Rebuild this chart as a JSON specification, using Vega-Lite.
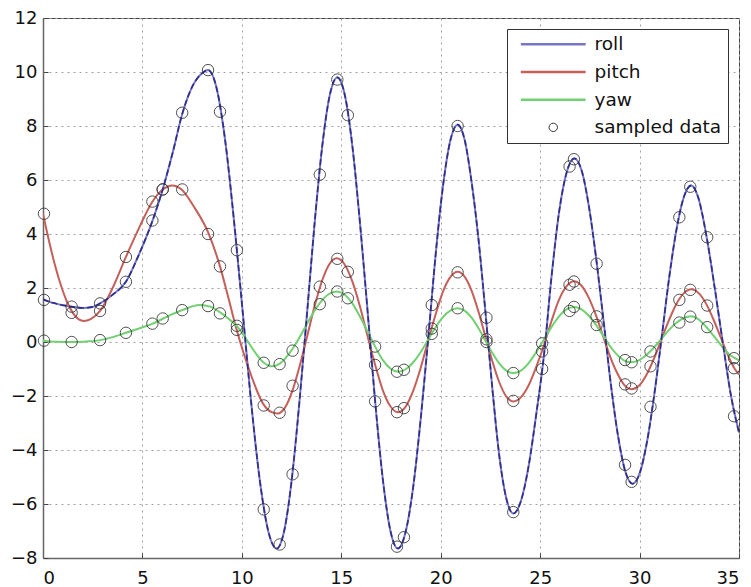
{
"$schema": "https://vega.github.io/schema/vega-lite/v6.json",
"width": 696, "height": 540,
"autosize": {"type": "none"},
"padding": {"left": 43, "top": 18, "right": 12, "bottom": 29},
"background": "white",
"config": {
 "view": {"stroke": "#444", "strokeWidth": 1},
 "axis": {"grid": true, "gridColor": "#a0a0a0", "gridDash": [2, 4], "gridWidth": 1, "domainColor": "#666", "domainWidth": 1.5, "tickColor": "#444", "tickSize": -5, "labelFont": "DejaVu Sans", "labelFontSize": 18, "labelColor": "#111", "title": null}
},
"datasets": {
 "curves": [
  {"t":0,"s":"roll","v":1.58},{"t":0.5,"s":"roll","v":1.45},{"t":1,"s":"roll","v":1.36},{"t":1.44,"s":"roll","v":1.31},{"t":2,"s":"roll","v":1.26},{"t":2.5,"s":"roll","v":1.3},{"t":2.87,"s":"roll","v":1.43},{"t":3.5,"s":"roll","v":1.75},{"t":4.17,"s":"roll","v":2.23},{"t":4.8,"s":"roll","v":3.2},{"t":5.55,"s":"roll","v":4.58},{"t":6.02,"s":"roll","v":5.65},{"t":6.5,"s":"roll","v":6.95},{"t":7.02,"s":"roll","v":8.49},{"t":7.5,"s":"roll","v":9.45},{"t":8,"s":"roll","v":9.95},{"t":8.3,"s":"roll","v":10.07},{"t":8.73,"s":"roll","v":9.4},{"t":9.16,"s":"roll","v":7.47},{"t":9.59,"s":"roll","v":4.6},{"t":10.03,"s":"roll","v":1.21},{"t":10.46,"s":"roll","v":-2.18},{"t":10.89,"s":"roll","v":-5.05},{"t":11.32,"s":"roll","v":-6.98},{"t":11.75,"s":"roll","v":-7.65},{"t":12.13,"s":"roll","v":-6.99},{"t":12.51,"s":"roll","v":-5.09},{"t":12.89,"s":"roll","v":-2.26},{"t":13.28,"s":"roll","v":1.08},{"t":13.66,"s":"roll","v":4.41},{"t":14.04,"s":"roll","v":7.24},{"t":14.42,"s":"roll","v":9.14},{"t":14.8,"s":"roll","v":9.8},{"t":15.18,"s":"roll","v":9.14},{"t":15.56,"s":"roll","v":7.24},{"t":15.94,"s":"roll","v":4.41},{"t":16.33,"s":"roll","v":1.08},{"t":16.71,"s":"roll","v":-2.26},{"t":17.09,"s":"roll","v":-5.09},{"t":17.47,"s":"roll","v":-6.99},{"t":17.85,"s":"roll","v":-7.65},{"t":18.23,"s":"roll","v":-7.05},{"t":18.62,"s":"roll","v":-5.35},{"t":19.0,"s":"roll","v":-2.8},{"t":19.38,"s":"roll","v":0.2},{"t":19.74,"s":"roll","v":3.2},{"t":20.11,"s":"roll","v":5.75},{"t":20.48,"s":"roll","v":7.45},{"t":20.85,"s":"roll","v":8.05},{"t":21.2,"s":"roll","v":7.5},{"t":21.55,"s":"roll","v":5.94},{"t":21.9,"s":"roll","v":3.8},{"t":22.25,"s":"roll","v":1.1},{"t":22.6,"s":"roll","v":-1.75},{"t":22.95,"s":"roll","v":-4.24},{"t":23.3,"s":"roll","v":-5.8},{"t":23.65,"s":"roll","v":-6.35},{"t":24.03,"s":"roll","v":-5.9},{"t":24.42,"s":"roll","v":-4.6},{"t":24.8,"s":"roll","v":-2.7},{"t":25.19,"s":"roll","v":-0.5},{"t":25.57,"s":"roll","v":2.4},{"t":25.95,"s":"roll","v":4.8},{"t":26.34,"s":"roll","v":6.3},{"t":26.72,"s":"roll","v":6.8},{"t":27.09,"s":"roll","v":6.34},{"t":27.45,"s":"roll","v":5.03},{"t":27.82,"s":"roll","v":3.08},{"t":28.19,"s":"roll","v":0.78},{"t":28.55,"s":"roll","v":-1.53},{"t":28.92,"s":"roll","v":-3.49},{"t":29.28,"s":"roll","v":-4.79},{"t":29.65,"s":"roll","v":-5.25},{"t":30.02,"s":"roll","v":-4.83},{"t":30.39,"s":"roll","v":-3.63},{"t":30.76,"s":"roll","v":-1.84},{"t":31.13,"s":"roll","v":0.28},{"t":31.49,"s":"roll","v":2.39},{"t":31.86,"s":"roll","v":4.18},{"t":32.23,"s":"roll","v":5.38},{"t":32.6,"s":"roll","v":5.8},{"t":32.95,"s":"roll","v":5.35},{"t":33.37,"s":"roll","v":3.9},{"t":33.8,"s":"roll","v":1.9},{"t":34.2,"s":"roll","v":-0.1},{"t":34.6,"s":"roll","v":-2.0},{"t":35,"s":"roll","v":-3.35},
  {"t":0,"s":"pitch","v":4.75},{"t":0.3,"s":"pitch","v":3.75},{"t":0.6,"s":"pitch","v":2.85},{"t":0.9,"s":"pitch","v":2.1},{"t":1.2,"s":"pitch","v":1.5},{"t":1.5,"s":"pitch","v":1.08},{"t":1.8,"s":"pitch","v":0.84},{"t":2.05,"s":"pitch","v":0.78},{"t":2.4,"s":"pitch","v":0.85},{"t":2.87,"s":"pitch","v":1.15},{"t":3.5,"s":"pitch","v":2.0},{"t":4.17,"s":"pitch","v":3.15},{"t":4.88,"s":"pitch","v":4.3},{"t":5.46,"s":"pitch","v":5.15},{"t":6.02,"s":"pitch","v":5.65},{"t":6.5,"s":"pitch","v":5.8},{"t":6.97,"s":"pitch","v":5.65},{"t":7.6,"s":"pitch","v":5.0},{"t":8.31,"s":"pitch","v":4.05},{"t":8.9,"s":"pitch","v":2.8},{"t":9.3,"s":"pitch","v":1.7},{"t":9.74,"s":"pitch","v":0.45},{"t":10.4,"s":"pitch","v":-1.1},{"t":11.08,"s":"pitch","v":-2.3},{"t":11.5,"s":"pitch","v":-2.6},{"t":11.8,"s":"pitch","v":-2.65},{"t":12.17,"s":"pitch","v":-2.43},{"t":12.54,"s":"pitch","v":-1.81},{"t":12.91,"s":"pitch","v":-0.88},{"t":13.29,"s":"pitch","v":0.23},{"t":13.66,"s":"pitch","v":1.33},{"t":14.03,"s":"pitch","v":2.26},{"t":14.4,"s":"pitch","v":2.88},{"t":14.77,"s":"pitch","v":3.1},{"t":15.16,"s":"pitch","v":2.88},{"t":15.54,"s":"pitch","v":2.27},{"t":15.93,"s":"pitch","v":1.34},{"t":16.31,"s":"pitch","v":0.25},{"t":16.7,"s":"pitch","v":-0.84},{"t":17.08,"s":"pitch","v":-1.77},{"t":17.47,"s":"pitch","v":-2.38},{"t":17.85,"s":"pitch","v":-2.6},{"t":18.23,"s":"pitch","v":-2.4},{"t":18.6,"s":"pitch","v":-1.84},{"t":18.98,"s":"pitch","v":-0.99},{"t":19.35,"s":"pitch","v":0},{"t":19.73,"s":"pitch","v":0.99},{"t":20.1,"s":"pitch","v":1.84},{"t":20.48,"s":"pitch","v":2.4},{"t":20.85,"s":"pitch","v":2.6},{"t":21.2,"s":"pitch","v":2.42},{"t":21.55,"s":"pitch","v":1.9},{"t":21.9,"s":"pitch","v":1.12},{"t":22.25,"s":"pitch","v":0.2},{"t":22.6,"s":"pitch","v":-0.72},{"t":22.95,"s":"pitch","v":-1.5},{"t":23.3,"s":"pitch","v":-2.02},{"t":23.65,"s":"pitch","v":-2.2},{"t":24.03,"s":"pitch","v":-2.05},{"t":24.41,"s":"pitch","v":-1.62},{"t":24.79,"s":"pitch","v":-0.95},{"t":25.18,"s":"pitch","v":-0.15},{"t":25.56,"s":"pitch","v":0.75},{"t":25.94,"s":"pitch","v":1.55},{"t":26.32,"s":"pitch","v":2.06},{"t":26.7,"s":"pitch","v":2.25},{"t":27.06,"s":"pitch","v":2.1},{"t":27.43,"s":"pitch","v":1.66},{"t":27.79,"s":"pitch","v":1.02},{"t":28.15,"s":"pitch","v":0.25},{"t":28.51,"s":"pitch","v":-0.52},{"t":28.88,"s":"pitch","v":-1.16},{"t":29.24,"s":"pitch","v":-1.6},{"t":29.6,"s":"pitch","v":-1.75},{"t":29.98,"s":"pitch","v":-1.61},{"t":30.35,"s":"pitch","v":-1.21},{"t":30.73,"s":"pitch","v":-0.61},{"t":31.1,"s":"pitch","v":0.1},{"t":31.48,"s":"pitch","v":0.81},{"t":31.85,"s":"pitch","v":1.41},{"t":32.23,"s":"pitch","v":1.81},{"t":32.6,"s":"pitch","v":1.95},{"t":32.96,"s":"pitch","v":1.82},{"t":33.33,"s":"pitch","v":1.44},{"t":33.69,"s":"pitch","v":0.88},{"t":34.05,"s":"pitch","v":0.23},{"t":34.41,"s":"pitch","v":-0.43},{"t":34.78,"s":"pitch","v":-0.99},{"t":35,"s":"pitch","v":-1.2},
  {"t":0,"s":"yaw","v":0.05},{"t":0.7,"s":"yaw","v":0.01},{"t":1.44,"s":"yaw","v":0},{"t":2.2,"s":"yaw","v":0.02},{"t":2.9,"s":"yaw","v":0.07},{"t":3.5,"s":"yaw","v":0.18},{"t":4.17,"s":"yaw","v":0.34},{"t":4.9,"s":"yaw","v":0.52},{"t":5.55,"s":"yaw","v":0.69},{"t":6.05,"s":"yaw","v":0.87},{"t":6.5,"s":"yaw","v":1.03},{"t":7.0,"s":"yaw","v":1.18},{"t":7.5,"s":"yaw","v":1.32},{"t":7.9,"s":"yaw","v":1.37},{"t":8.4,"s":"yaw","v":1.31},{"t":8.98,"s":"yaw","v":1.06},{"t":9.35,"s":"yaw","v":0.85},{"t":9.74,"s":"yaw","v":0.6},{"t":10.0,"s":"yaw","v":0.35},{"t":10.3,"s":"yaw","v":0.02},{"t":10.7,"s":"yaw","v":-0.42},{"t":11.08,"s":"yaw","v":-0.75},{"t":11.5,"s":"yaw","v":-0.9},{"t":11.91,"s":"yaw","v":-0.8},{"t":12.32,"s":"yaw","v":-0.49},{"t":12.73,"s":"yaw","v":-0.05},{"t":13.14,"s":"yaw","v":0.49},{"t":13.54,"s":"yaw","v":1.02},{"t":13.95,"s":"yaw","v":1.47},{"t":14.36,"s":"yaw","v":1.77},{"t":14.77,"s":"yaw","v":1.87},{"t":15.16,"s":"yaw","v":1.76},{"t":15.55,"s":"yaw","v":1.44},{"t":15.93,"s":"yaw","v":0.95},{"t":16.32,"s":"yaw","v":0.39},{"t":16.71,"s":"yaw","v":-0.18},{"t":17.09,"s":"yaw","v":-0.67},{"t":17.48,"s":"yaw","v":-0.99},{"t":17.87,"s":"yaw","v":-1.1},{"t":18.24,"s":"yaw","v":-1.01},{"t":18.61,"s":"yaw","v":-0.76},{"t":18.99,"s":"yaw","v":-0.38},{"t":19.36,"s":"yaw","v":0.08},{"t":19.73,"s":"yaw","v":0.53},{"t":20.1,"s":"yaw","v":0.91},{"t":20.48,"s":"yaw","v":1.16},{"t":20.85,"s":"yaw","v":1.25},{"t":21.2,"s":"yaw","v":1.16},{"t":21.55,"s":"yaw","v":0.9},{"t":21.9,"s":"yaw","v":0.51},{"t":22.25,"s":"yaw","v":0.05},{"t":22.6,"s":"yaw","v":-0.41},{"t":22.95,"s":"yaw","v":-0.8},{"t":23.3,"s":"yaw","v":-1.06},{"t":23.65,"s":"yaw","v":-1.15},{"t":24.03,"s":"yaw","v":-1.06},{"t":24.41,"s":"yaw","v":-0.79},{"t":24.79,"s":"yaw","v":-0.39},{"t":25.18,"s":"yaw","v":0.08},{"t":25.56,"s":"yaw","v":0.54},{"t":25.94,"s":"yaw","v":0.94},{"t":26.32,"s":"yaw","v":1.21},{"t":26.7,"s":"yaw","v":1.3},{"t":27.06,"s":"yaw","v":1.22},{"t":27.41,"s":"yaw","v":1.0},{"t":27.77,"s":"yaw","v":0.67},{"t":28.13,"s":"yaw","v":0.28},{"t":28.48,"s":"yaw","v":-0.12},{"t":28.84,"s":"yaw","v":-0.45},{"t":29.19,"s":"yaw","v":-0.67},{"t":29.55,"s":"yaw","v":-0.75},{"t":29.93,"s":"yaw","v":-0.69},{"t":30.31,"s":"yaw","v":-0.5},{"t":30.69,"s":"yaw","v":-0.23},{"t":31.08,"s":"yaw","v":0.1},{"t":31.46,"s":"yaw","v":0.43},{"t":31.84,"s":"yaw","v":0.7},{"t":32.22,"s":"yaw","v":0.89},{"t":32.6,"s":"yaw","v":0.95},{"t":32.95,"s":"yaw","v":0.85},{"t":33.3,"s":"yaw","v":0.6},{"t":33.7,"s":"yaw","v":0.25},{"t":34.1,"s":"yaw","v":-0.12},{"t":34.5,"s":"yaw","v":-0.45},{"t":34.8,"s":"yaw","v":-0.6},{"t":35,"s":"yaw","v":-0.68}
 ],
 "samples": [
  {"t":0.05,"v":1.56},{"t":0.05,"v":4.75},{"t":0.05,"v":0.05},
  {"t":1.44,"v":1.31},{"t":1.44,"v":1.08},{"t":1.44,"v":0.0},
  {"t":2.87,"v":1.43},{"t":2.87,"v":1.15},{"t":2.87,"v":0.07},
  {"t":4.17,"v":2.23},{"t":4.17,"v":3.15},{"t":4.17,"v":0.34},
  {"t":5.5,"v":4.5},{"t":5.5,"v":5.2},{"t":5.5,"v":0.68},
  {"t":6.02,"v":5.65},{"t":6.02,"v":5.65},{"t":6.02,"v":0.87},
  {"t":7.0,"v":8.49},{"t":7.0,"v":5.65},{"t":7.0,"v":1.18},
  {"t":8.3,"v":10.07},{"t":8.3,"v":4.0},{"t":8.3,"v":1.33},
  {"t":8.9,"v":8.53},{"t":8.9,"v":2.8},{"t":8.9,"v":1.06},
  {"t":9.75,"v":3.4},{"t":9.75,"v":0.45},{"t":9.75,"v":0.6},
  {"t":11.1,"v":-6.2},{"t":11.1,"v":-2.35},{"t":11.1,"v":-0.77},
  {"t":11.9,"v":-7.5},{"t":11.9,"v":-2.62},{"t":11.9,"v":-0.82},
  {"t":12.55,"v":-4.9},{"t":12.55,"v":-1.62},{"t":12.55,"v":-0.32},
  {"t":13.92,"v":6.2},{"t":13.92,"v":2.05},{"t":13.92,"v":1.4},
  {"t":14.8,"v":9.72},{"t":14.8,"v":3.08},{"t":14.8,"v":1.87},
  {"t":15.33,"v":8.4},{"t":15.33,"v":2.6},{"t":15.33,"v":1.62},
  {"t":16.7,"v":-2.2},{"t":16.7,"v":-0.85},{"t":16.7,"v":-0.17},
  {"t":17.8,"v":-7.58},{"t":17.8,"v":-2.6},{"t":17.8,"v":-1.1},
  {"t":18.15,"v":-7.23},{"t":18.15,"v":-2.45},{"t":18.15,"v":-1.03},
  {"t":19.55,"v":1.37},{"t":19.55,"v":0.5},{"t":19.55,"v":0.3},
  {"t":20.85,"v":8.0},{"t":20.85,"v":2.58},{"t":20.85,"v":1.25},
  {"t":22.3,"v":0.9},{"t":22.3,"v":0.1},{"t":22.3,"v":0.0},
  {"t":23.65,"v":-6.3},{"t":23.65,"v":-2.18},{"t":23.65,"v":-1.15},
  {"t":25.1,"v":-1.0},{"t":25.1,"v":-0.35},{"t":25.1,"v":-0.05},
  {"t":26.48,"v":6.5},{"t":26.48,"v":2.12},{"t":26.48,"v":1.15},
  {"t":26.7,"v":6.77},{"t":26.7,"v":2.24},{"t":26.7,"v":1.3},
  {"t":27.84,"v":2.9},{"t":27.84,"v":0.95},{"t":27.84,"v":0.63},
  {"t":29.27,"v":-4.55},{"t":29.27,"v":-1.57},{"t":29.27,"v":-0.67},
  {"t":29.6,"v":-5.18},{"t":29.6,"v":-1.72},{"t":29.6,"v":-0.75},
  {"t":30.55,"v":-2.4},{"t":30.55,"v":-0.9},{"t":30.55,"v":-0.35},
  {"t":32.0,"v":4.62},{"t":32.0,"v":1.56},{"t":32.0,"v":0.72},
  {"t":32.55,"v":5.75},{"t":32.55,"v":1.93},{"t":32.55,"v":0.94},
  {"t":33.4,"v":3.88},{"t":33.4,"v":1.35},{"t":33.4,"v":0.55},
  {"t":34.75,"v":-2.75},{"t":34.75,"v":-0.97},{"t":34.75,"v":-0.6}
 ]
},
"layer": [
 {
  "data": {"name": "curves"},
  "mark": {"type": "line", "strokeWidth": 2, "interpolate": "monotone", "clip": true},
  "encoding": {
   "x": {"field": "t", "type": "quantitative", "scale": {"domain": [0, 35], "nice": false, "zero": false}, "axis": {"values": [0, 5, 10, 15, 20, 25, 30, 35], "labelPadding": 16}},
   "y": {"field": "v", "type": "quantitative", "scale": {"domain": [-8, 12], "nice": false, "zero": false}, "axis": {"values": [-8, -6, -4, -2, 0, 2, 4, 6, 8, 10, 12], "labelPadding": 11}},
   "color": {"field": "s", "type": "nominal", "scale": {"domain": ["roll", "pitch", "yaw", "sampled data"], "range": ["#7676c6", "#c55f5a", "#72d072", "#333333"]},
    "legend": {"title": null, "orient": "top-right", "offset": 11, "padding": 6, "rowPadding": 8.7, "fillColor": "white", "strokeColor": "#333", "labelFont": "DejaVu Sans", "labelFontSize": 18.5, "labelColor": "#111", "labelLimit": 300, "symbolSize": 144, "symbolOffset": 31, "labelOffset": 32,
     "encode": {"symbols": {"update": {
      "shape": {"signal": "datum.value === 'sampled data' ? 'circle' : 'M-5.4,0H5.4'"},
      "size": {"signal": "datum.value === 'sampled data' ? 70 : 144"},
      "strokeWidth": {"signal": "datum.value === 'sampled data' ? 1 : 2.5"},
      "fill": {"value": "transparent"},
      "stroke": {"signal": "datum.value === 'roll' ? '#8585cc' : datum.value === 'pitch' ? '#bb5a55' : datum.value === 'yaw' ? '#86d486' : '#444444'"},
      "opacity": {"value": 1}
     }}}}
   }
  }
 },
 {
  "data": {"name": "curves"},
  "transform": [{"filter": "datum.s === 'roll'"}],
  "mark": {"type": "line", "color": "#2c2c8c", "strokeWidth": 1.6, "strokeDash": [6, 3], "interpolate": "monotone", "clip": true},
  "encoding": {
   "x": {"field": "t", "type": "quantitative"},
   "y": {"field": "v", "type": "quantitative"}
  }
 },
 {
  "data": {"name": "samples"},
  "mark": {"type": "point", "filled": false, "size": 130, "strokeWidth": 1, "opacity": 0.85},
  "encoding": {
   "x": {"field": "t", "type": "quantitative"},
   "y": {"field": "v", "type": "quantitative"},
   "color": {"datum": "sampled data", "type": "nominal"}
  }
 }
]
}
